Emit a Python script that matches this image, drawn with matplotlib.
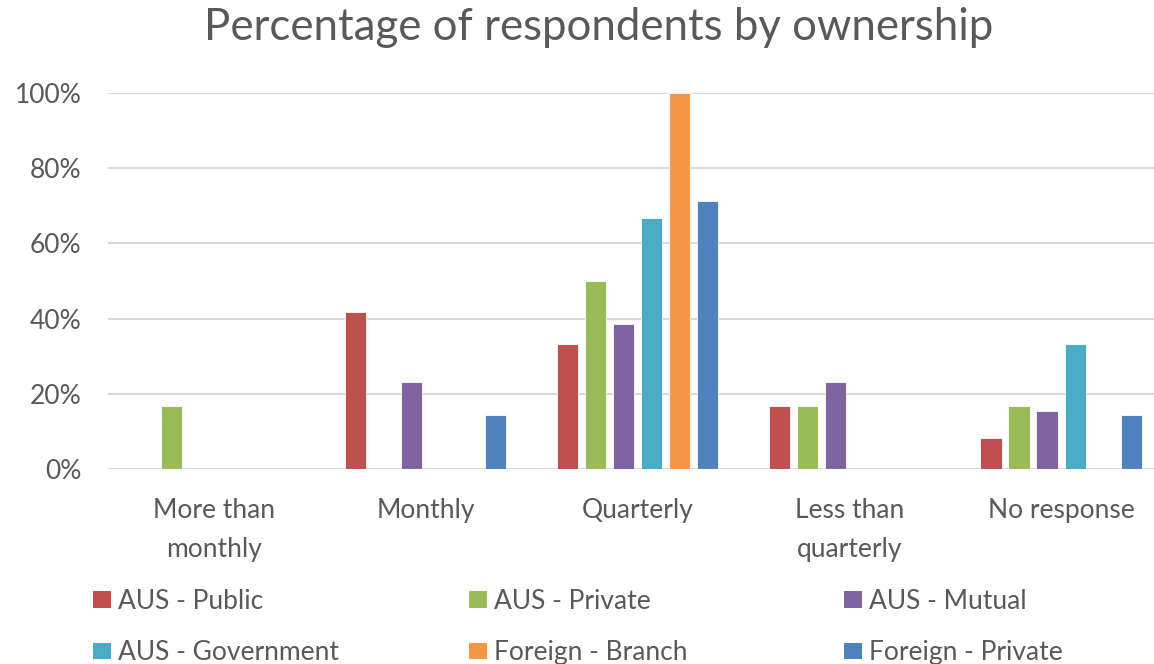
import matplotlib.pyplot as plt
import numpy as np
from matplotlib.patches import Patch
from matplotlib.ticker import PercentFormatter

plt.rcParams['font.family'] = ['Lato', 'DejaVu Sans']

# data (percent of respondents)
categories = ['More than\nmonthly', 'Monthly', 'Quarterly', 'Less than\nquarterly', 'No response']
series_names = ['AUS - Public', 'AUS - Private', 'AUS - Mutual',
                'AUS - Government', 'Foreign - Branch', 'Foreign - Private']
aus_public = [0, 41.7, 33.3, 16.7, 8.3]
aus_private = [16.7, 0, 50.0, 16.7, 16.7]
aus_mutual = [0, 23.1, 38.5, 23.1, 15.4]
aus_government = [0, 0, 66.7, 0, 33.3]
foreign_branch = [0, 0, 100.0, 0, 0]
foreign_private = [0, 14.3, 71.4, 0, 14.3]
colors = ['#C0504D', '#9BBB59', '#8064A2', '#4BACC6', '#F79646', '#4F81BD']

all_series = [aus_public, aus_private, aus_mutual,
              aus_government, foreign_branch, foreign_private]

text_color = '#595959'

fig = plt.figure(figsize=(11.54, 6.64), dpi=100)
ax = fig.add_axes([108 / 1154, 195 / 664, 1059 / 1154, 376 / 664])

x = np.arange(len(categories))
step = 0.1324
width = 0.1
for i, (vals, col) in enumerate(zip(all_series, colors)):
    offs = (i - 2.5) * step
    ax.bar(x + offs, vals, width=width, color=col, edgecolor='white',
           linewidth=0.6, zorder=3)

ax.set_xlim(-0.5, len(categories) - 0.5)
ax.set_ylim(0, 100)
ax.set_yticks([0, 20, 40, 60, 80, 100])
ax.yaxis.set_major_formatter(PercentFormatter(decimals=0))
ax.set_xticks(x)
ax.set_xticklabels(categories, linespacing=1.7)
ax.grid(axis='y', color='#D9D9D9', linewidth=1.5, zorder=0)
for s in ax.spines.values():
    s.set_visible(False)
ax.tick_params(axis='both', length=0, labelsize=19, labelcolor=text_color)
ax.tick_params(axis='y', pad=19)
ax.tick_params(axis='x', pad=21)

# the original chart is cropped on the right, so the title sits right of centre
fig.text(598.5 / 1154, 0.958, 'Percentage of respondents by ownership', ha='center',
         va='center', fontsize=31.5, color=text_color)

# legend, three columns of two entries like the original
col_x = [93 / 1154, 469 / 1154, 844 / 1154]
for c in range(3):
    handles = [Patch(facecolor=colors[c], edgecolor='none', label=series_names[c]),
               Patch(facecolor=colors[c + 3], edgecolor='none', label=series_names[c + 3])]
    fig.legend(handles=handles, loc='upper left', bbox_to_anchor=(col_x[c], 0.113),
               frameon=False, fontsize=19, labelcolor=text_color,
               handlelength=0.68, handleheight=0.6, handletextpad=0.27,
               labelspacing=1.0, borderpad=0, borderaxespad=0)

fig.savefig('out.png', dpi=100)
